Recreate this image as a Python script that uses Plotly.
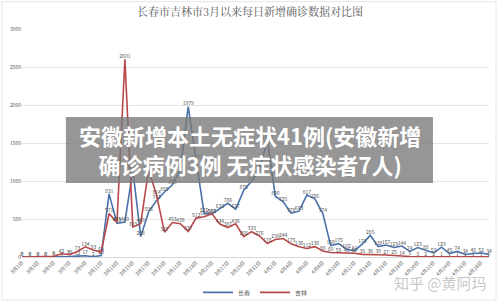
import plotly.graph_objects as go

dates = [f"3月{d}日" for d in range(1, 32)] + [f"4月{d}日" for d in range(1, 30)]

changchun = [0, 0, 0, 0, 0, 0, 5, 12, 17, 2,
             20, 831, 443, 460, 1143, 268, 595, 742, 855, 950,
             1150, 1979, 1270, 576, 568, 633, 706, 627, 875, 997,
             1150, 1540, 800, 725, 578, 603, 817, 766, 574, 150,
             175, 102, 81, 173, 285, 138, 157, 125, 144, 74,
             125, 88, 53, 129, 45, 74, 34, 46, 52, 34]

jilin = [0, 0, 0, 0, 9, 42, 29, 73, 134, 93,
         64, 571, 455, 2601, 393, 440, 1150, 814, 327, 453,
         438, 337, 512, 530, 568, 434, 387, 436, 268, 333,
         276, 178, 230, 244, 175, 136, 112, 136, 80, 60,
         55, 48, 50, 35, 36, 30, 27, 25, 14, 5,
         3, 2, 2, 1, 1, 1, 1, 1, 1, 1]

series_names = ["长春", "吉林"]
title_text = "长春市吉林市3月以来每日新增确诊数据对比图"
overlay_text = "安徽新增本土无症状41例(安徽新增<br>确诊病例3例 无症状感染者7人)"
watermark = "知乎 @黄阿玛"

BLUE = "#4a72a8"
RED = "#b8474a"

fig = go.Figure()
for name, vals, col in [(series_names[0], changchun, BLUE), (series_names[1], jilin, RED)]:
    fig.add_trace(go.Scatter(
        x=dates, y=vals, name=name, mode="lines+text",
        line=dict(color=col, width=1.6),
        text=[str(v) for v in vals], textposition="top center",
        textfont=dict(size=5, color="#505050"),
        cliponaxis=False,
    ))

fig.update_layout(
    width=500, height=302,
    margin=dict(l=22, r=11, t=29, b=45, autoexpand=False),
    paper_bgcolor="white", plot_bgcolor="white",
    font=dict(family="Noto Sans CJK SC", color="#595959"),
    title=dict(text=title_text, x=0.5, xanchor="center", y=0.96, yanchor="middle",
               font=dict(size=11, color="#595959", family="Noto Serif CJK SC, Noto Sans CJK SC")),
    showlegend=True,
    legend=dict(orientation="h", x=0.5, xanchor="center", y=-0.155, yanchor="middle",
                font=dict(size=6, color="#595959"), itemwidth=30,
                bgcolor="rgba(0,0,0,0)"),
    xaxis=dict(type="category", range=[0, len(dates) - 1], automargin=False,
               tickmode="array", tickvals=dates[::2], ticktext=dates[::2],
               tickangle=-45, tickfont=dict(size=5, color="#595959"),
               showgrid=False, showline=True, linecolor="#d9d9d9", ticks=""),
    yaxis=dict(range=[0, 3000], dtick=500, automargin=False,
               tickfont=dict(size=5, color="#595959"),
               showgrid=True, gridcolor="#e3e3e3", zeroline=False, ticks=""),
)

# faint outer frame of the picture
fig.add_shape(type="rect", xref="paper", yref="paper",
              x0=-0.043, x1=1.015, y0=-0.189, y1=1.12,
              line=dict(color="#e6e6e6", width=1), fillcolor="rgba(0,0,0,0)", layer="below")

fig.add_shape(type="rect", xref="paper", yref="paper",
              x0=0.094, x1=0.880, y0=0.3246, y1=0.614,
              fillcolor="rgba(120,120,120,0.78)", line=dict(width=0), layer="above")
fig.add_annotation(xref="paper", yref="paper", x=0.488, y=0.47, xanchor="center", yanchor="middle",
                   text="<b>" + overlay_text + "</b>", showarrow=False,
                   font=dict(size=22, color="white", family="Noto Sans CJK SC"))
fig.add_annotation(xref="paper", yref="paper", x=1.0, y=-0.11, xanchor="right", yanchor="middle",
                   text=watermark, showarrow=False,
                   font=dict(size=15, color="rgba(190,190,190,0.85)", family="Noto Sans CJK SC"))

fig.write_html("out.html")
